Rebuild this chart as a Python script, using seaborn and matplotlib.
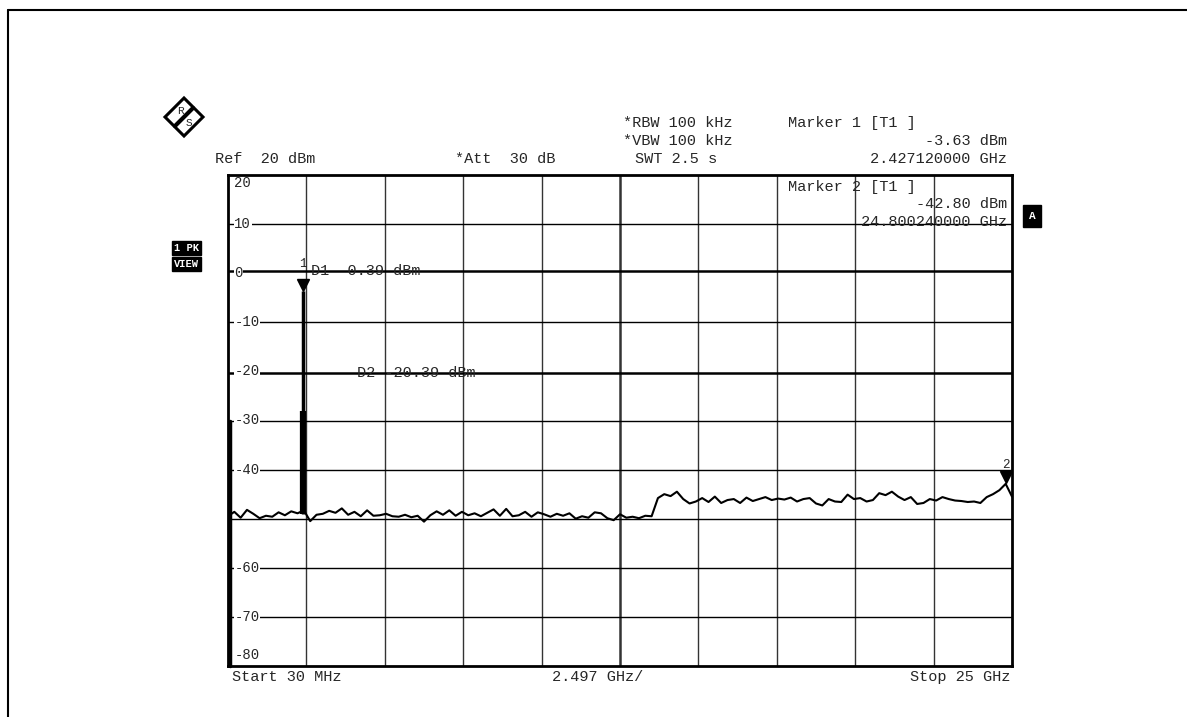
import numpy as np
import pandas as pd
import matplotlib.pyplot as plt
import seaborn as sns
from matplotlib.lines import Line2D
from matplotlib.patches import Polygon

# sweep settings
f_start = 0.03   # GHz
f_stop = 25.0    # GHz
ref_level = 20
y_bottom = -80
y_ticks = [20, 10, 0, -10, -20, -30, -40, -60, -70, -80]

# trace levels in dBm (125 sweep points)
levels = [
    -49.5, -48.6, -49.8, -48.2, -49.0, -49.9, -49.4, -49.6, -48.7, -49.3, -48.5, -48.9,
    -48.3, -50.5, -49.2, -49.0, -48.4, -48.8, -47.9, -49.2, -48.6, -49.5, -48.3, -49.4,
    -49.3, -49.0, -49.5, -49.6, -49.2, -49.7, -49.4, -50.6, -49.3, -48.5, -49.2, -48.3,
    -49.4, -48.6, -49.3, -48.9, -49.5, -48.8, -48.1, -49.4, -48.0, -49.5, -49.3, -48.6,
    -49.6, -48.7, -49.1, -49.6, -49.0, -49.4, -48.9, -50.0, -49.5, -49.8, -48.7, -48.9,
    -49.9, -50.3, -49.1, -49.8, -49.6, -49.9, -49.4, -49.5, -45.8, -45.0, -45.4, -44.5,
    -46.0, -46.9, -46.5, -45.8, -46.6, -45.5, -46.8, -46.2, -46.0, -46.8, -45.7, -46.4,
    -46.0, -45.6, -46.2, -45.9, -46.1, -45.7, -46.5, -46.0, -45.8, -46.9, -47.3, -46.0,
    -46.5, -46.6, -45.1, -46.0, -45.8, -46.5, -46.2, -44.8, -45.2, -44.5, -45.5, -46.2,
    -45.6, -47.0, -46.8, -46.0, -46.3, -45.6, -46.0, -46.3, -46.4, -46.6, -46.5, -46.8,
    -45.6, -45.0, -44.2, -42.9, -45.5,
]
freqs = np.linspace(f_start, f_stop, len(levels))

# markers and display lines
m1_freq, m1_level = 2.42712, -3.63
m2_freq, m2_level = 24.80024, -42.80
spike_base, spike_thick_top = -49.0, -28.0
d1_level = 0.39
d2_level = -20.39

df = pd.DataFrame({"freq": freqs, "level": levels})

sns.set_style("white")
plt.rcParams["font.family"] = ["Liberation Mono", "DejaVu Sans Mono"]
mono = 11

fig = plt.figure(figsize=(11.87, 7.17), dpi=100)
ax = fig.add_axes([228 / 1187, 51 / 717, 784 / 1187, 491 / 717])

# grid
div = (f_stop - f_start) / 10
for k in range(1, 10):
    ax.axvline(f_start + k * div, color="#333333", lw=1.8 if k == 5 else 1.0, zorder=1)
for lv in range(10, y_bottom, -10):
    if lv in (0, -20):
        continue
    ax.axhline(lv, color="black", lw=1.0, zorder=1)

# display lines D1 / D2
ax.axhline(d1_level, color="black", lw=1.8, zorder=1)
ax.axhline(d2_level, color="black", lw=1.8, zorder=1)

# trace
sns.lineplot(data=df, x="freq", y="level", ax=ax, color="black", lw=1.5, zorder=3)
ax.vlines(m1_freq, spike_base, m1_level, color="black", lw=2.5, zorder=3)
ax.vlines(m1_freq, spike_base, spike_thick_top, color="black", lw=4.5, zorder=3)

# markers
ax.plot([m1_freq], [m1_level + 1.2], marker="v", color="black", ms=8, zorder=4)
ax.plot([m2_freq], [m2_level + 1.2], marker="v", color="black", ms=8, zorder=4)
ax.text(m1_freq, 0.6, "1", fontsize=9, ha="center", va="bottom", zorder=5)
ax.text(m2_freq, m2_level + 2.6, "2", fontsize=9, ha="center", va="bottom", zorder=5)
ax.text(m1_freq + 0.25, d1_level, "D1  0.39 dBm", fontsize=mono, va="center", zorder=5)
ax.text(m1_freq + 1.7, d2_level, "D2 -20.39 dBm", fontsize=mono, va="center", zorder=5)

ax.set_xlim(f_start, f_stop)
ax.set_ylim(y_bottom, ref_level)
ax.set_xticks([])
ax.set_yticks([])
ax.set_xlabel("")
ax.set_ylabel("")
for s in ax.spines.values():
    s.set_color("black")
    s.set_linewidth(2)
ax.plot([0.003, 0.003], [0.0, 0.5], transform=ax.transAxes, color="black", lw=2.5, clip_on=False)

# level labels inside the left edge
ytr = ax.get_yaxis_transform()
for lv in y_ticks:
    if lv == ref_level:
        ax.text(0.008, lv - 1.6, str(lv), transform=ytr, fontsize=mono - 1, va="center", zorder=6)
    elif lv == y_bottom:
        ax.text(0.008, lv + 2.2, str(lv), transform=ytr, fontsize=mono - 1, va="center", zorder=6)
    else:
        ax.text(0.008, lv, str(lv), transform=ytr, fontsize=mono - 1, va="center", zorder=6,
                bbox=dict(facecolor="white", edgecolor="none", pad=0.5))

# header texts (figure pixel coords, origin top-left)
def ftext(x, y, s, **kw):
    fig.text(x / 1187, 1 - y / 717, s, fontsize=mono, va="center", **kw)

ftext(215, 159, "Ref  20 dBm")
ftext(455, 159, "*Att  30 dB")
ftext(623, 123, "*RBW 100 kHz")
ftext(623, 141, "*VBW 100 kHz")
ftext(635, 159, "SWT 2.5 s")
ftext(788, 123, "Marker 1 [T1 ]")
ftext(1007, 141, "-3.63 dBm", ha="right")
ftext(1007, 159, "2.427120000 GHz", ha="right")
ftext(788, 187, "Marker 2 [T1 ]")
ftext(1007, 204, "-42.80 dBm", ha="right")
ftext(1007, 222, "24.800240000 GHz", ha="right")
ftext(232, 677, "Start 30 MHz")
ftext(598, 677, "2.497 GHz/", ha="center")
ftext(1010, 677, "Stop 25 GHz", ha="right")

# black tag boxes
box = dict(facecolor="black", edgecolor="black", pad=1.5)
fig.text(1032 / 1187, 1 - 216 / 717, "A", fontsize=8, color="white", ha="center", va="center",
         fontweight="bold", bbox=dict(facecolor="black", edgecolor="black", pad=4))
fig.text(174 / 1187, 1 - 248 / 717, "1 PK", fontsize=7.5, color="white", va="center",
         fontweight="bold", bbox=box)
fig.text(174 / 1187, 1 - 264 / 717, "VIEW", fontsize=7.5, color="white", va="center",
         fontweight="bold", bbox=box)

# R&S logo
cx, cy, r = 184, 117, 19
pts = [((cx) / 1187, 1 - (cy - r) / 717), ((cx + r) / 1187, 1 - cy / 717),
       ((cx) / 1187, 1 - (cy + r) / 717), ((cx - r) / 1187, 1 - cy / 717)]
fig.add_artist(Polygon(pts, closed=True, facecolor="white", edgecolor="black", lw=2.2,
                       transform=fig.transFigure, zorder=1))
fig.add_artist(Line2D([(cx - 9) / 1187, (cx + 9) / 1187], [1 - (cy + 9) / 717, 1 - (cy - 9) / 717],
                      color="black", lw=3, transform=fig.transFigure, zorder=2))
fig.text((cx - 4) / 1187, 1 - (cy - 6) / 717, "R", fontsize=8, ha="center", va="center", zorder=3)
fig.text((cx + 5) / 1187, 1 - (cy + 6) / 717, "S", fontsize=8, ha="center", va="center", zorder=3)

# outer page frame
fig.add_artist(Line2D([8 / 1187, 1.0], [1 - 10 / 717, 1 - 10 / 717], color="black", lw=1.5,
                      transform=fig.transFigure))
fig.add_artist(Line2D([8 / 1187, 8 / 1187], [1 - 10 / 717, 0.0], color="black", lw=1.5,
                      transform=fig.transFigure))

fig.savefig("out.png", dpi=100, facecolor="white")
